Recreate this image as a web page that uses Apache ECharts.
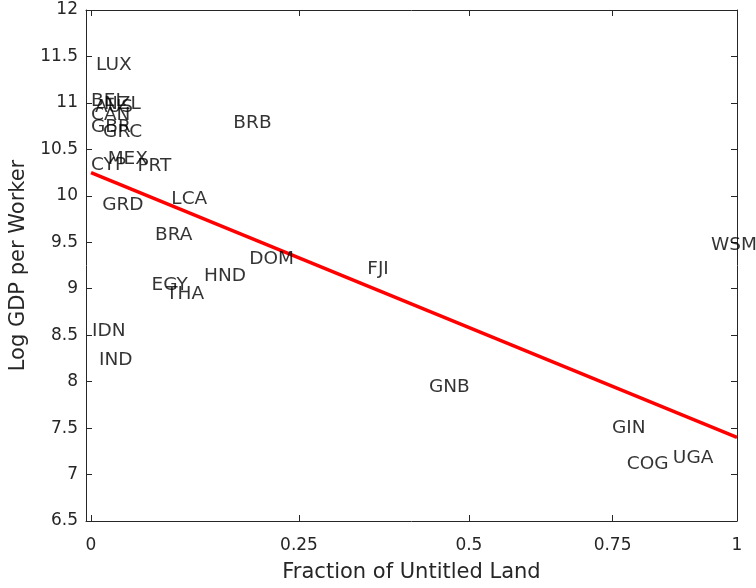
<!DOCTYPE html>
<html>
<head>
<meta charset="utf-8">
<script src="https://cdn.jsdelivr.net/npm/echarts@6/dist/echarts.min.js"></script>
<style>
  html, body { margin: 0; padding: 0; background: #fff; }
  #chart { width: 756px; height: 588px; }
</style>
</head>
<body>
<div id="chart"></div>
<script>
// country codes and values (fraction of untitled land, log GDP per worker)
var countries = ["LUX", "BEL", "NZL", "AUS", "CAN", "GBR", "GRC", "BRB", "MEX", "CYP", "PRT",
    "LCA", "GRD", "BRA", "DOM", "HND", "FJI", "EGY", "THA", "WSM", "IDN", "IND", "GNB", "GIN", "COG", "UGA"];
var untitled = [0.0054, 0, 0.014, 0.0043, 0, 0, 0.013, 0.165, 0.018, 0, 0.051,
    0.090, 0.012, 0.071, 0.185, 0.129, 0.345, 0.067, 0.084, 0.945, 0.001, 0.0086, 0.437, 0.749, 0.777, 0.867];
var logGdp = [11.41, 11.02, 10.99, 10.95, 10.87, 10.74, 10.68, 10.78, 10.39, 10.33, 10.32,
    9.96, 9.90, 9.58, 9.32, 9.14, 9.21, 9.04, 8.94, 9.47, 8.54, 8.23, 7.94, 7.50, 7.11, 7.18];

// fitted line end points
var fitX = [0, 1];
var fitY = [10.25, 7.40];

// tick labels of the x axis
var xTicks = [0, 0.25, 0.5, 0.75, 1];

// the x axis is drawn on a log(1 + x) scale
function tx(v) { return Math.log(1 + v); }

var chart = echarts.init(document.getElementById('chart'));

var axisColor = '#262626';
var font = 'DejaVu Sans';

var pts = [];
for (var i = 0; i < countries.length; i++) {
    pts.push({ name: countries[i], value: [tx(untitled[i]), logGdp[i]] });
}
var fit = [];
for (var j = 0; j < fitX.length; j++) {
    fit.push([tx(fitX[j]), fitY[j]]);
}
var tickPos = xTicks.map(tx);

var xMin = -0.0054, xMax = tx(1);

var option = {
    animation: false,
    grid: { left: 86, right: 19, top: 10, bottom: 65 },
    xAxis: [
        {
            type: 'value',
            min: xMin,
            max: xMax,
            name: 'Fraction of Untitled Land',
            nameLocation: 'middle',
            nameGap: 41,
            nameTextStyle: { fontFamily: font, fontSize: 21, color: axisColor },
            axisLine: { onZero: false, lineStyle: { color: axisColor, width: 1 } },
            axisTick: { inside: true, length: 6, customValues: tickPos, lineStyle: { color: axisColor } },
            axisLabel: {
                customValues: tickPos,
                margin: 16,
                fontFamily: font,
                fontSize: 17,
                color: axisColor,
                formatter: function (v) {
                    var r = Math.round((Math.exp(v) - 1) * 100) / 100;
                    return String(r);
                }
            },
            splitLine: { show: false }
        },
        {
            type: 'value',
            position: 'top',
            min: xMin,
            max: xMax,
            axisLine: { onZero: false, lineStyle: { color: axisColor, width: 1 } },
            axisTick: { inside: true, length: 6, customValues: tickPos, lineStyle: { color: axisColor } },
            axisLabel: { show: false },
            splitLine: { show: false }
        }
    ],
    yAxis: [
        {
            type: 'value',
            min: 6.5,
            max: 12,
            interval: 0.5,
            name: 'Log GDP per Worker',
            nameLocation: 'middle',
            nameGap: 48,
            nameTextStyle: { fontFamily: font, fontSize: 21, color: axisColor },
            axisLine: { show: true, onZero: false, lineStyle: { color: axisColor, width: 1 } },
            axisTick: { show: true, inside: true, length: 6, lineStyle: { color: axisColor } },
            axisLabel: { margin: 8, fontFamily: font, fontSize: 17, color: axisColor },
            splitLine: { show: false }
        },
        {
            type: 'value',
            position: 'right',
            min: 6.5,
            max: 12,
            interval: 0.5,
            axisLine: { show: true, onZero: false, lineStyle: { color: axisColor, width: 1 } },
            axisTick: { show: true, inside: true, length: 6, lineStyle: { color: axisColor } },
            axisLabel: { show: false },
            splitLine: { show: false }
        }
    ],
    series: [
        {
            name: 'fit',
            type: 'line',
            data: fit,
            symbol: 'none',
            lineStyle: { color: '#ff0000', width: 3.5 },
            z: 2
        },
        {
            name: 'countries',
            type: 'scatter',
            data: pts,
            symbolSize: 0,
            itemStyle: { color: 'rgba(0,0,0,0)' },
            label: {
                show: true,
                position: 'right',
                distance: 0,
                formatter: '{b}',
                fontFamily: font,
                fontSize: 18.5,
                color: '#000'
            },
            z: 3
        }
    ]
};

chart.setOption(option);
</script>
</body>
</html>
